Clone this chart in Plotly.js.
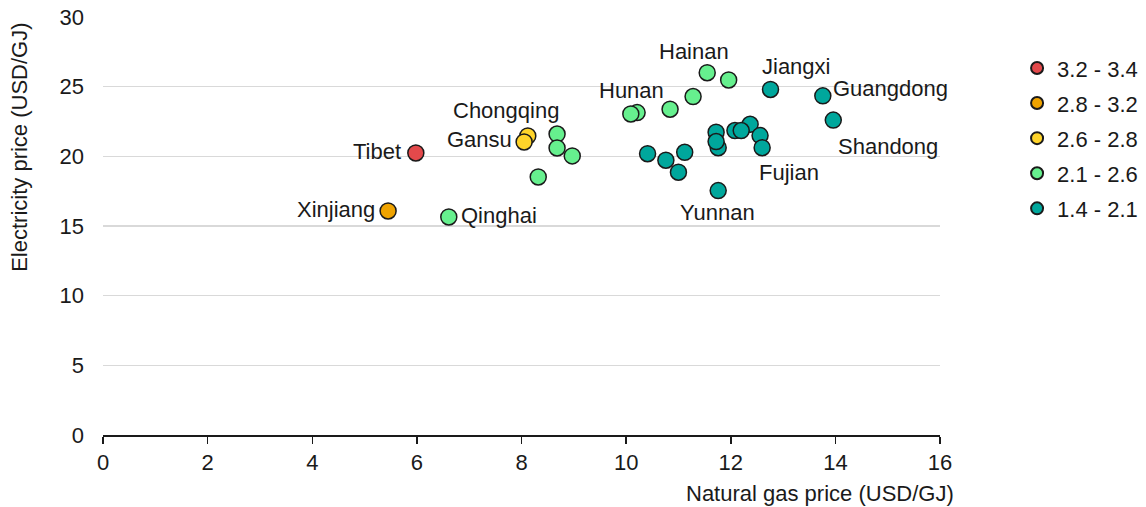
<!DOCTYPE html>
<html>
<head>
<meta charset="utf-8">
<script src="https://cdn.plot.ly/plotly-3.0.1.min.js"></script>
<style>html,body{margin:0;padding:0;background:#fff;}#chart{width:1146px;height:507px;}</style>
</head>
<body>
<div id="chart"></div>
<script>
// ---- data ----
const bands = ["3.2 - 3.4", "2.8 - 3.2", "2.6 - 2.8", "2.1 - 2.6", "1.4 - 2.1"];
const province = ["Tibet","Xinjiang","Chongqing","Gansu","Qinghai","","","","",
  "","Hunan","","","Hainan","",
  "Jiangxi","Guangdong","Shandong","","","","","Yunnan","","","","","","","","Fujian"];
const gasPrice = [5.98, 5.45, 8.12, 8.05, 6.61, 8.68, 8.68, 8.97, 8.32,
  10.21, 10.09, 10.84, 11.28, 11.55, 11.96,
  12.76, 13.76, 13.96, 10.41, 10.76, 11.12, 11.0, 11.76, 11.72, 11.76, 11.72, 12.37, 12.08, 12.2, 12.56, 12.6];
const elecPrice = [20.24, 16.08, 21.46, 21.03, 15.65, 21.6, 20.6, 20.03, 18.52,
  23.14, 23.04, 23.38, 24.29, 26.0, 25.48,
  24.8, 24.34, 22.6, 20.19, 19.72, 20.29, 18.86, 17.54, 21.73, 20.62, 21.06, 22.3, 21.85, 21.85, 21.49, 20.62];
const bandIndex = [0, 1, 2, 2, 3, 3, 3, 3, 3,
  3, 3, 3, 3, 3, 3,
  4, 4, 4, 4, 4, 4, 4, 4, 4, 4, 4, 4, 4, 4, 4, 4];

// ---- styles ----
const colors = ["#E3494B", "#EFA300", "#FFD42A", "#66F08E", "#00A79C"];
const labelStyle = {
  "Tibet":     {xanchor:"right",  yanchor:"middle", xshift:-13, yshift:1},
  "Xinjiang":  {xanchor:"right",  yanchor:"middle", xshift:-11, yshift:1},
  "Qinghai":   {xanchor:"left",   yanchor:"middle", xshift:10,  yshift:1},
  "Gansu":     {xanchor:"right",  yanchor:"middle", xshift:-10, yshift:2},
  "Chongqing": {xanchor:"center", yanchor:"middle", xshift:-22, yshift:25},
  "Hunan":     {xanchor:"center", yanchor:"middle", xshift:1,   yshift:23},
  "Hainan":    {xanchor:"center", yanchor:"middle", xshift:-13, yshift:21},
  "Jiangxi":   {xanchor:"center", yanchor:"middle", xshift:25,  yshift:23},
  "Guangdong": {xanchor:"left",   yanchor:"middle", xshift:8,   yshift:7},
  "Shandong":  {xanchor:"left",   yanchor:"middle", xshift:3,   yshift:-26},
  "Fujian":    {xanchor:"center", yanchor:"middle", xshift:27,  yshift:-25},
  "Yunnan":    {xanchor:"center", yanchor:"middle", xshift:-1,  yshift:-22}
};
const FONT = "Liberation Sans, Arial, sans-serif";
const FS = 22;

const traces = bands.map((b, k) => {
  const idx = bandIndex.map((v, i) => v === k ? i : -1).filter(i => i >= 0);
  return {
    type: "scatter", mode: "markers", name: b,
    legendgroup: "g" + k, legendrank: k + 1,
    x: idx.map(i => gasPrice[i]), y: idx.map(i => elecPrice[i]),
    marker: {color: colors[k], size: 16, line: {color: "#1a1a1a", width: 1.5}},
    hoverinfo: "skip"
  };
});
const ordered = [traces[4], traces[3], traces[2], traces[1], traces[0]];

const annotations = [];
province.forEach((p, i) => {
  if (!p) return;
  const s = labelStyle[p];
  annotations.push(Object.assign({
    x: gasPrice[i], y: elecPrice[i], xref: "x", yref: "y", text: p, showarrow: false,
    font: {family: FONT, size: FS, color: "#1a1a1a"}
  }, s));
});
annotations.push({
  xref: "paper", yref: "paper", x: -0.099, y: 0.99, xanchor: "center", yanchor: "top",
  textangle: -90, showarrow: false, text: "Electricity price (USD/GJ)",
  font: {family: FONT, size: FS, color: "#1a1a1a"}
});
annotations.push({
  xref: "paper", yref: "paper", x: 1.019, y: -0.139, xanchor: "right", yanchor: "middle",
  showarrow: false, text: "Natural gas price (USD/GJ)",
  font: {family: FONT, size: FS, color: "#1a1a1a"}
});

const layout = {
  width: 1146, height: 507,
  margin: {l: 103, r: 206, t: 17, b: 72},
  paper_bgcolor: "#fff", plot_bgcolor: "#fff",
  font: {family: FONT, size: FS, color: "#1a1a1a"},
  showlegend: true,
  legend: {xref: "container", yref: "container", x: 0.8875, y: 0.907, xanchor: "left", yanchor: "top",
           traceorder: "grouped", tracegroupgap: 3.5, itemsizing: "constant",
           font: {family: FONT, size: FS, color: "#1a1a1a"}},
  xaxis: {range: [0, 16], dtick: 2, tick0: 0, showgrid: false, zeroline: false,
          showline: true, linecolor: "#1a1a1a", linewidth: 1.5,
          ticks: "outside", ticklen: 7, tickcolor: "#1a1a1a", tickwidth: 1.5,
          tickfont: {family: FONT, size: FS, color: "#1a1a1a"}, fixedrange: true},
  yaxis: {range: [0, 30], dtick: 5, tick0: 0, showgrid: true, gridcolor: "#d9d9d9", gridwidth: 1.5,
          zeroline: false, showline: false, ticks: "", ticklabelstandoff: 18,
          tickfont: {family: FONT, size: FS, color: "#1a1a1a"}, fixedrange: true},
  annotations: annotations
};
Plotly.newPlot("chart", ordered, layout, {displayModeBar: false, staticPlot: true});
</script>
</body>
</html>
